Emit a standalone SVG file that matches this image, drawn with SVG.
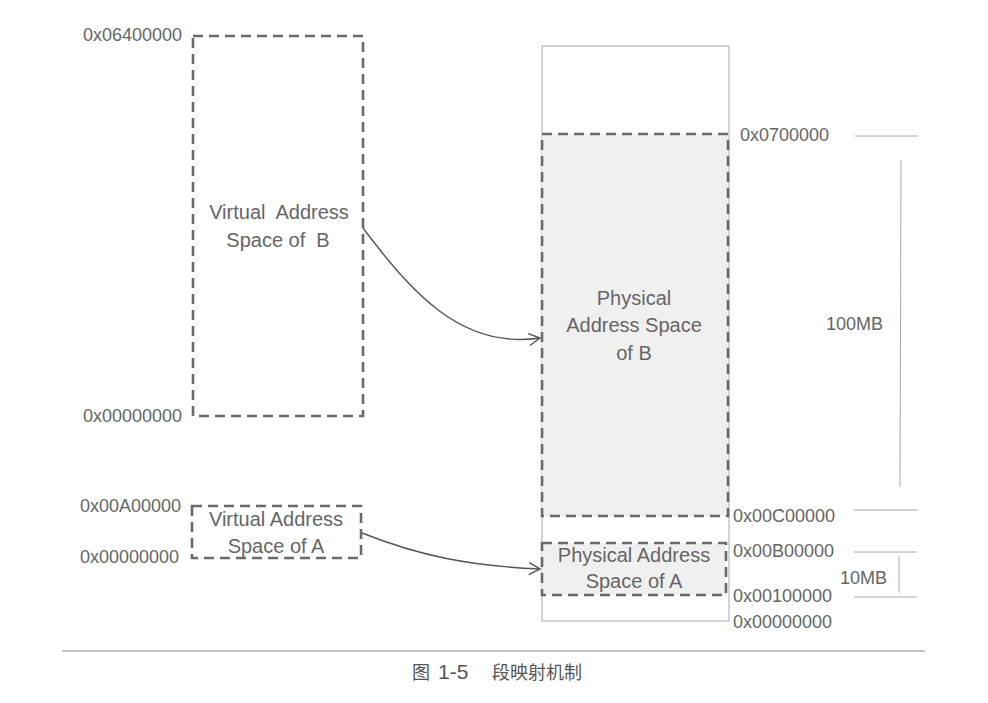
<svg xmlns="http://www.w3.org/2000/svg" width="988" height="703" viewBox="0 0 988 703">
<defs>
<style>
text{font-family:"Liberation Sans","Noto Sans CJK SC",sans-serif;font-size:18px;fill:#666}
.c{text-anchor:middle;font-size:20px}
.pre{white-space:pre}
.box{fill:none;stroke:#6a6a6a;stroke-width:2.6;stroke-dasharray:10 6}
.thin{stroke:#aaa;stroke-width:1;fill:none}
.conn{fill:none;stroke:#555;stroke-width:1.4}
</style>
<marker id="ah" markerWidth="14" markerHeight="14" refX="12" refY="7" orient="auto" markerUnits="userSpaceOnUse">
<path d="M1,1 L12,7 L1,13" fill="none" stroke="#555" stroke-width="1.4"/>
</marker>
</defs>
<rect width="988" height="703" fill="#fff"/>
<g id="physical-memory">
<rect class="thin" x="542" y="46" width="187" height="575" stroke="#999"/>
</g>
<g id="phys-b">
<rect x="542" y="134" width="186" height="382" class="box" style="fill:#f0f0f0"/>
<text class="c" x="634" y="305">Physical</text>
<text class="c" x="634" y="332">Address Space</text>
<text class="c" x="634" y="360">of B</text>
</g>
<g id="phys-a">
<rect x="542" y="543" width="184" height="52" class="box" style="fill:#f0f0f0"/>
<text class="c" x="634" y="562">Physical Address</text>
<text class="c" x="634" y="588">Space of A</text>
</g>
<g id="virt-b">
<rect x="193" y="36" width="170" height="380" class="box"/>
<text class="c pre" x="279" y="219" xml:space="preserve">Virtual  Address</text>
<text class="c pre" x="278" y="247" xml:space="preserve">Space of  B</text>
<text x="83" y="41">0x06400000</text>
<text x="83" y="422">0x00000000</text>
</g>
<g id="virt-a">
<rect x="192" y="506" width="169" height="52" class="box"/>
<text class="c" x="276" y="526">Virtual Address</text>
<text class="c" x="276" y="553">Space of A</text>
<text x="80" y="512">0x00A00000</text>
<text x="80" y="563">0x00000000</text>
</g>
<g id="scale">
<text x="740" y="141">0x0700000</text>
<text x="733" y="522">0x00C00000</text>
<text x="733" y="557">0x00B00000</text>
<text x="733" y="602">0x00100000</text>
<text x="733" y="628">0x00000000</text>
<text x="826" y="330">100MB</text>
<text x="840" y="584">10MB</text>
<line class="thin" x1="855" y1="136" x2="918" y2="136"/>
<line class="thin" x1="901" y1="160" x2="900" y2="487"/>
<line class="thin" x1="854" y1="510" x2="918" y2="510"/>
<line class="thin" x1="854" y1="552" x2="917" y2="552"/>
<line class="thin" x1="899" y1="556" x2="899" y2="593"/>
<line class="thin" x1="854" y1="597" x2="917" y2="597"/>
</g>
<g id="connectors">
<path class="conn" d="M363,228 C410,290 460,350 540,338" marker-end="url(#ah)"/>
<path class="conn" d="M362,533 C420,556 470,566 540,569" marker-end="url(#ah)"/>
</g>
<g id="caption">
<line x1="62" y1="651" x2="925" y2="651" stroke="#888" stroke-width="1.2"/>
<text x="412" y="679" style="fill:#555">图 <tspan x="438" style="font-size:21px">1-5</tspan></text>
<text x="492" y="679" style="fill:#555">段映射机制</text>
</g>
</svg>
